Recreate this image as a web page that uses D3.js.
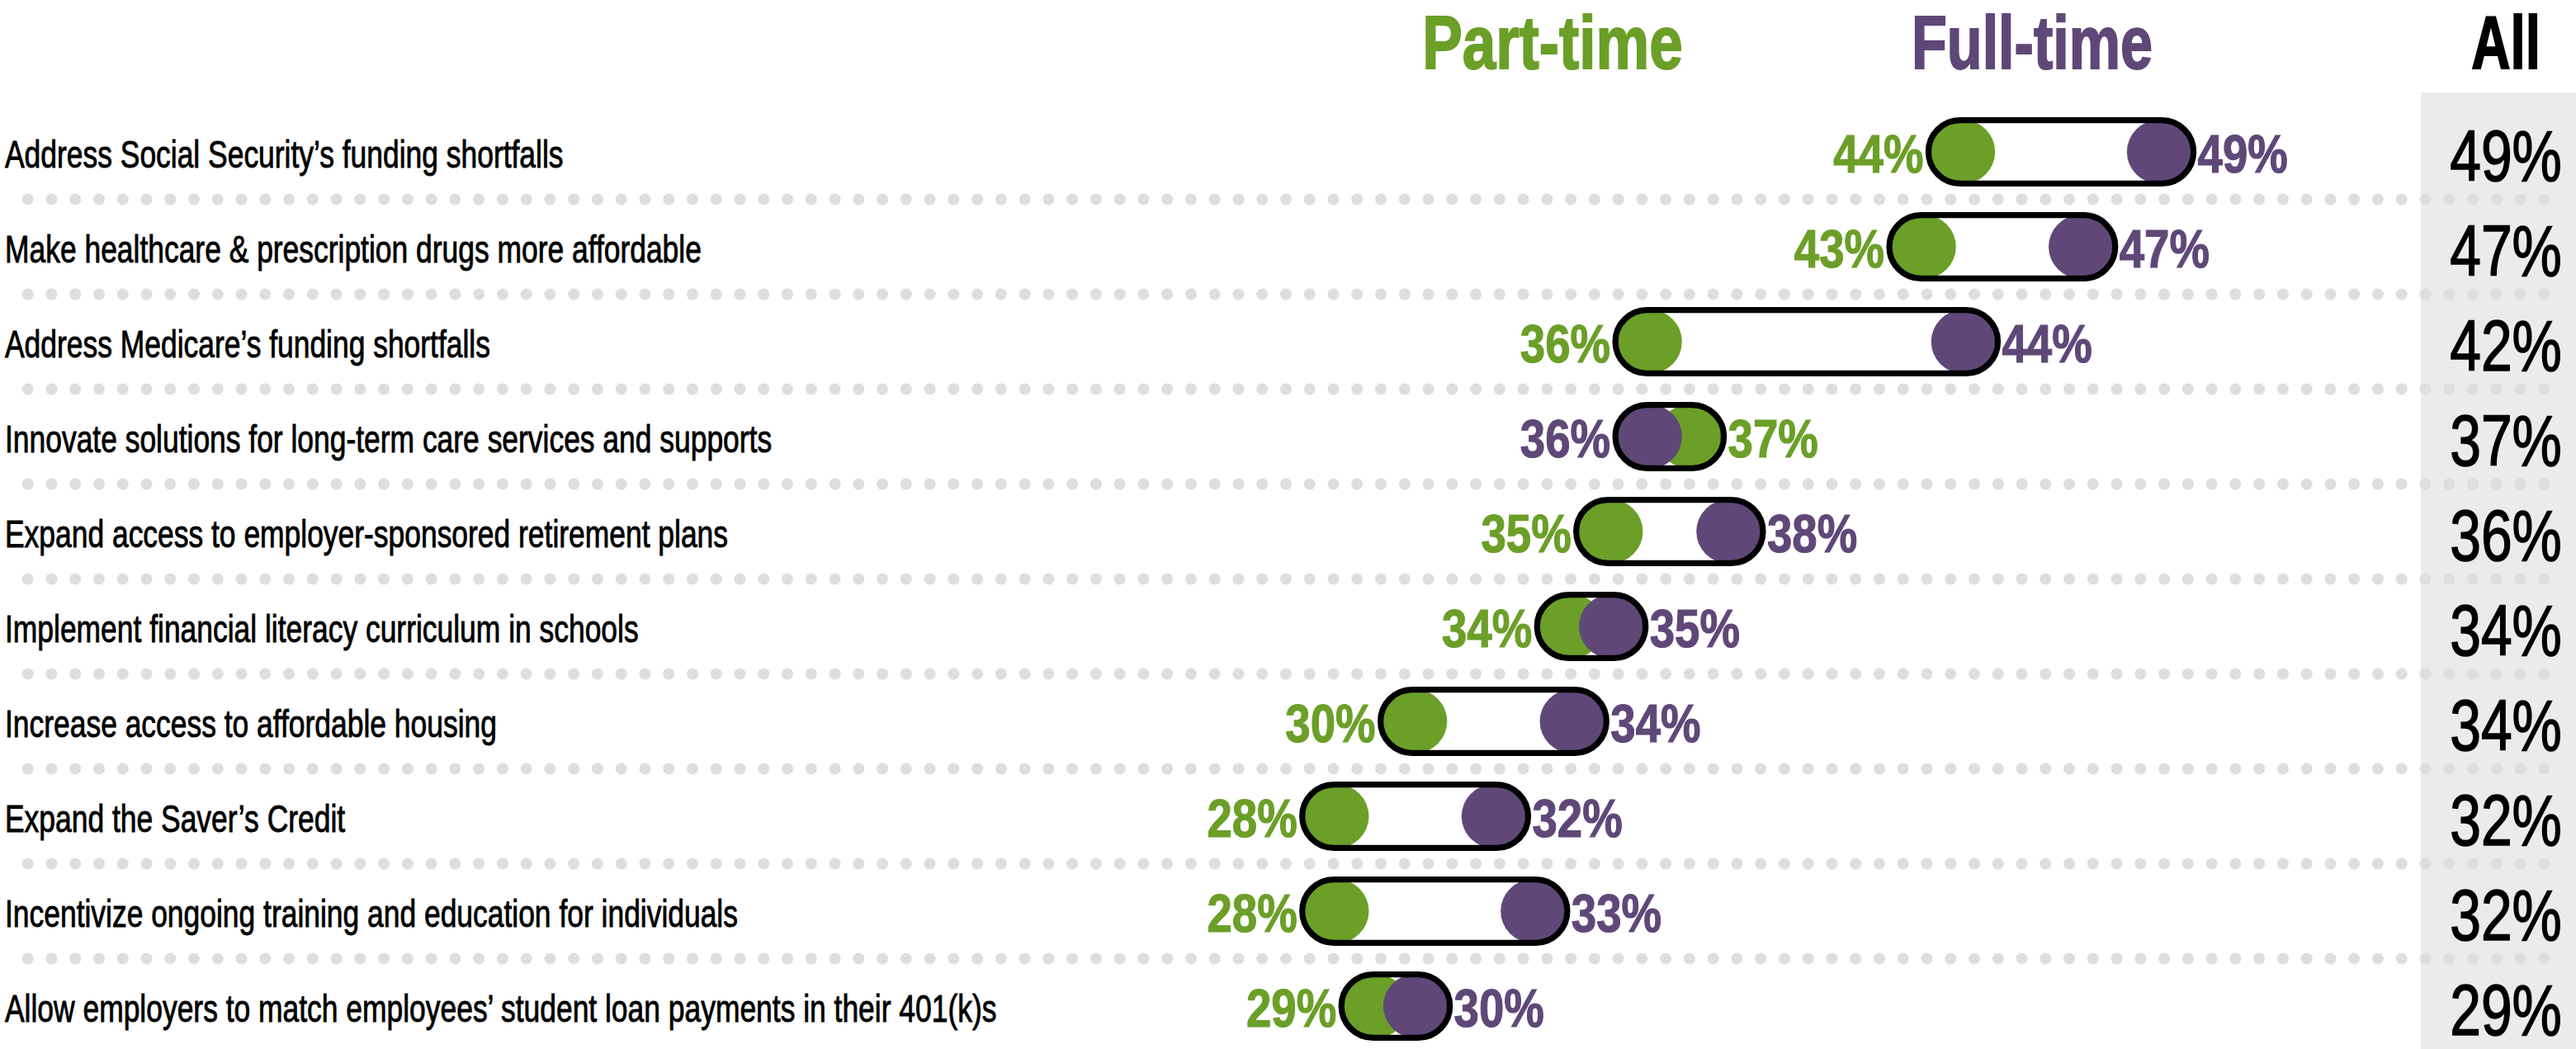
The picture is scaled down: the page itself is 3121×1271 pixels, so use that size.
<!DOCTYPE html>
<html>
<head>
<meta charset="utf-8">
<script src="https://cdn.jsdelivr.net/npm/d3@7"></script>
<style>
  html, body { margin: 0; padding: 0; background: #fff; }
  svg text { font-family: "Liberation Sans Narrow", "Liberation Sans", Arial, sans-serif; }
</style>
</head>
<body>
<div id="chart"></div>
<script>
// Data
const categories = [
  "Address Social Security\u2019s funding shortfalls",
  "Make healthcare & prescription drugs more affordable",
  "Address Medicare\u2019s funding shortfalls",
  "Innovate solutions for long-term care services and supports",
  "Expand access to employer-sponsored retirement plans",
  "Implement financial literacy curriculum in schools",
  "Increase access to affordable housing",
  "Expand the Saver\u2019s Credit",
  "Incentivize ongoing training and education for individuals",
  "Allow employers to match employees\u2019 student loan payments in their 401(k)s"
];
const partTime = [44, 43, 36, 37, 35, 34, 30, 28, 28, 29];
const fullTime = [49, 47, 44, 36, 38, 35, 34, 32, 33, 30];
const allWorkers = [49, 47, 42, 37, 36, 34, 34, 32, 32, 29];
const headers = ["Part-time", "Full-time", "All"];

const width = 3121;
const height = 1271;
const green = "#6b9f28";
const purple = "#5f4878";

// No condensed face is installed, so text is squeezed horizontally
const squeeze = (x, y, s) => "translate(" + x + "," + y + ") scale(" + s + ",1)";

const svg = d3.select("#chart").append("svg")
  .attr("width", width)
  .attr("height", height);

// Scales
let x = d3.scaleLinear()
  .domain([0, 50])
  .range([292, 2663]);

let y = d3.scalePoint()
  .domain(categories)
  .range([184, 184 + 115 * (categories.length - 1)]);

const step = y.step();

// Grey column behind the "All" values
svg.append("rect")
  .attr("x", 2933)
  .attr("y", 112)
  .attr("width", width - 2933)
  .attr("height", height - 112)
  .attr("fill", "#ebebeb");

// Dotted separators between rows
const dotX = d3.range(107).map((i) => 33.7 + i * 28.76);
categories.slice(0, -1).forEach((c) => {
  svg.append("g")
    .attr("class", "dots")
    .selectAll("circle")
    .data(dotX)
    .enter().append("circle")
    .attr("cx", (d) => d)
    .attr("cy", y(c) + step / 2)
    .attr("r", 7)
    .attr("fill", "#dedede");
});

const rows = categories.map((c, i) => ({
  category: c,
  part: partTime[i],
  full: fullTime[i],
  all: allWorkers[i]
}));

// Category labels
svg.selectAll(".label")
  .data(rows)
  .enter().append("text")
  .attr("class", "label")
  .attr("transform", (d) => squeeze(6, y(d.category) + 19, 0.77))
  .attr("font-size", 46)
  .attr("fill", "#000")
  .attr("stroke", "#000")
  .attr("stroke-width", 0.9)
  .text((d) => d.category);

// Pills
const R = 38.4;
const pad = 42;
const pill = svg.selectAll(".pill")
  .data(rows)
  .enter().append("g")
  .attr("class", "pill")
  .attr("transform", (d) => "translate(0," + y(d.category) + ")");

const lo = (d) => x(Math.min(d.part, d.full));
const hi = (d) => x(Math.max(d.part, d.full));

pill.append("rect")
  .attr("x", (d) => lo(d) - pad)
  .attr("y", -R)
  .attr("width", (d) => hi(d) - lo(d) + pad * 2)
  .attr("height", R * 2)
  .attr("rx", R)
  .attr("fill", "#fff");

pill.append("circle")
  .attr("cx", (d) => x(d.part))
  .attr("r", 38.7)
  .attr("fill", green);

pill.append("circle")
  .attr("cx", (d) => x(d.full))
  .attr("r", 38.7)
  .attr("fill", purple);

pill.append("rect")
  .attr("x", (d) => lo(d) - pad)
  .attr("y", -R)
  .attr("width", (d) => hi(d) - lo(d) + pad * 2)
  .attr("height", R * 2)
  .attr("rx", R)
  .attr("fill", "none")
  .attr("stroke", "#000")
  .attr("stroke-width", 7.3);

// Value labels: the smaller value sits left of the pill, the larger one right
pill.append("text")
  .attr("transform", (d) => d.part <= d.full
    ? squeeze(x(d.part) - pad - 6, 25, 0.84)
    : squeeze(x(d.part) + pad + 5, 25, 0.84))
  .attr("text-anchor", (d) => d.part <= d.full ? "end" : "start")
  .attr("font-size", 65)
  .attr("font-weight", "bold")
  .attr("fill", green)
  .attr("stroke", green)
  .attr("stroke-width", 1.2)
  .text((d) => d.part + "%");

pill.append("text")
  .attr("transform", (d) => d.full < d.part
    ? squeeze(x(d.full) - pad - 6, 25, 0.84)
    : squeeze(x(d.full) + pad + 5, 25, 0.84))
  .attr("text-anchor", (d) => d.full < d.part ? "end" : "start")
  .attr("font-size", 65)
  .attr("font-weight", "bold")
  .attr("fill", purple)
  .attr("stroke", purple)
  .attr("stroke-width", 1.2)
  .text((d) => d.full + "%");

// "All" column values
svg.selectAll(".all")
  .data(rows)
  .enter().append("text")
  .attr("class", "all")
  .attr("transform", (d) => squeeze(3036, y(d.category) + 35, 0.77))
  .attr("text-anchor", "middle")
  .attr("font-size", 88)
  .attr("fill", "#000")
  .attr("stroke", "#000")
  .attr("stroke-width", 1.6)
  .text((d) => d.all + "%");

// Column headers
const headerX = [1881, 2462, 3036];
const headerScale = [0.8, 0.77, 0.72];
const headerColor = [green, purple, "#000"];
svg.selectAll(".header")
  .data(headers)
  .enter().append("text")
  .attr("class", "header")
  .attr("transform", (d, i) => squeeze(headerX[i], 83, headerScale[i]))
  .attr("text-anchor", "middle")
  .attr("font-size", 91)
  .attr("font-weight", "bold")
  .attr("fill", (d, i) => headerColor[i])
  .attr("stroke", (d, i) => headerColor[i])
  .attr("stroke-width", 2)
  .text((d) => d);
</script>
</body>
</html>
